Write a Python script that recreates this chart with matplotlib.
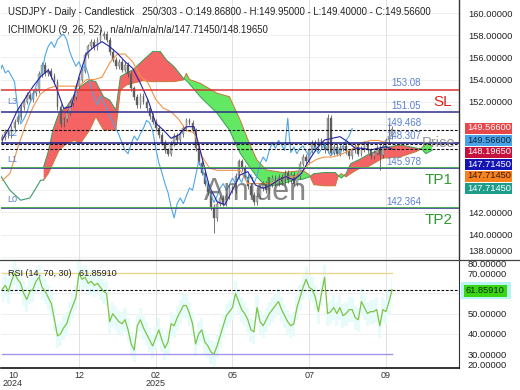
import numpy as np
import matplotlib
matplotlib.use("Agg")
import matplotlib.pyplot as plt
from matplotlib.lines import Line2D
from matplotlib.patches import Rectangle
from matplotlib.ticker import FuncFormatter

plt.rcParams['font.family'] = ['Liberation Sans', 'DejaVu Sans']

W, H = 520, 390

# ---- price data (one candle per 2 trading days, bar index) ----
bars = list(range(0, 256, 2))
closes = [148.8, 149.3, 149.0, 149.6, 150.2, 150.6, 151.5, 152.0, 152.6, 152.2,
          152.8, 153.0, 154.5, 155.3, 154.6, 154.8, 154.3, 153.8, 151.5, 150.0,
          150.4, 151.0, 151.9, 152.4, 153.4, 154.0, 154.8, 156.2, 157.0, 157.4,
          156.9, 157.6, 157.9, 158.1, 157.6, 156.5, 155.8, 155.2, 155.6, 154.9,
          155.3, 154.5, 153.2, 152.4, 151.7, 152.5, 152.0, 151.4, 150.7, 150.2,
          149.6, 149.0, 148.3, 147.6, 147.3, 148.2, 148.9, 148.5, 149.1, 149.6,
          150.3, 150.1, 149.4, 147.8, 146.5, 145.6, 144.6, 143.8, 142.5, 141.5,
          142.8, 143.3, 142.8, 143.5, 144.2, 144.0, 145.3, 146.6, 146.0, 145.2,
          144.4, 143.6, 142.9, 143.5, 144.2, 144.6, 144.0, 144.5, 145.1, 144.6,
          145.2, 144.7, 145.6, 144.9, 145.4, 144.6, 145.3, 146.4, 147.0, 146.6,
          147.6, 148.3, 147.8, 148.5, 148.1, 147.6, 150.5, 147.4, 147.9, 147.3,
          147.8, 148.0, 147.5, 147.1, 147.6, 147.9, 147.3, 147.7, 148.2, 147.6,
          147.1, 147.4, 147.8, 147.2, 148.0, 148.5, 148.9, 149.566]
wick_bars = [64, 138, 212, 246, 252]
wick_prices = [158.6, 140.1, 150.9, 145.8, 150.1]

# ---- ichimoku lines ----
line_x = [0, 5, 10, 15, 20, 25, 30, 35, 40, 45, 50, 55, 60, 65, 70, 75, 80, 85,
          90, 95, 100, 105, 110, 115, 120, 125, 130, 135, 140, 145, 150, 155,
          160, 165, 170, 175, 180, 185, 190, 195, 200, 205, 210, 215, 220, 225,
          230, 235, 240, 245, 250, 254]
tenkan = [148.54, 149.74, 151.25, 152.30, 153.36, 154.26, 154.86, 153.36, 151.40,
          151.55, 154.26, 156.37, 156.97, 157.42, 156.97, 156.37, 155.62, 155.01,
          153.66, 152.15, 150.05, 149.44, 148.69, 148.99, 149.74, 149.74, 147.03,
          144.32, 142.97, 142.67, 144.02, 145.38, 145.68, 144.47, 144.17, 144.47,
          144.93, 145.23, 144.93, 145.53, 146.73, 147.79, 148.54, 148.69, 148.84,
          148.39, 147.79, 147.79, 147.64, 147.79, 147.94, 147.71]
kijun = [144.9, 145.5, 147.8, 149.8, 151.5, 152.7, 153.2, 153.4, 153.4, 153.4,
         153.4, 154.0, 154.0, 154.2, 155.5, 156.3, 156.3, 155.6, 154.3, 153.7,
         152.2, 151.4, 151.1, 150.4, 149.4, 149.2, 147.1, 146.0, 145.8, 145.8,
         145.8, 145.8, 144.6, 144.6, 144.6, 144.6, 144.9, 145.2, 145.2, 145.6,
         146.4, 146.8, 147.0, 147.0, 147.2, 147.5, 147.9, 148.3, 148.5, 148.5,
         148.3, 148.2]
pre_x = [-1, 5, 12, 18, 22, 25, 27]
pre_a = [145.3, 144.0, 143.1, 143.3, 144.2, 144.9, 144.93]
cloud_x = [27, 30, 33, 37, 42, 47, 51, 57, 61, 66, 70, 74, 77, 81, 85, 92, 98,
           103, 107, 112, 118, 120, 122, 129, 140, 148, 155, 161, 166, 172, 183,
           190, 196, 200, 203, 210, 217, 219, 221, 224, 227, 233, 238, 248, 259,
           270, 273, 276, 280]
span_a = [144.93, 145.5, 146.4, 147.6, 148.24, 148.5, 148.24, 149.44, 150.65, 149.44,
          149.44, 149.44, 153.06, 153.5, 153.66, 153.9, 153.8, 153.81, 153.81, 153.81,
          153.96, 154.56, 154.0, 153.66, 152.76, 152.45, 150.35, 148.24, 146.73, 145.83,
          145.6, 145.7, 145.8, 145.4, 144.5, 144.4, 144.4, 145.3, 145.5, 145.2,
          145.5, 146.0, 146.1, 146.9, 147.0, 147.5, 147.75, 148.3, 148.0]
span_b = [146.13, 147.5, 149.44, 151.0, 151.55, 152.6, 153.36, 153.96, 153.8, 152.45,
          152.15, 151.25, 154.26, 154.6, 154.86, 155.77, 156.52, 156.52, 155.77, 155.16,
          154.11, 153.9, 153.6, 152.45, 150.95, 149.44, 147.34, 146.13, 145.2, 144.32,
          144.6, 144.9, 145.0, 145.2, 145.5, 145.6, 145.6, 145.3, 145.1, 145.5,
          146.4, 146.8, 147.2, 147.8, 148.1, 147.8, 147.75, 147.3, 147.6]

# ---- trade levels ----
level_prices = [153.08, 151.05, 149.468, 148.307, 145.978, 142.364]
level_labels = ["153.08", "151.05", "149.468", "148.307", "145.978", "142.364"]
dashed_prices = [149.468, 148.1965, 147.7145]
green_prices = [146.1, 142.5]

# ---- right-side price tags ----
tag_texts = ["149.56600", "149.56600", "148.19650", "147.71450", "147.71450", "147.71450"]
tag_bg = ["#e8474a", "#4aa3e8", "#c8103c", "#1414b4", "#f7821e", "#1d9e8c"]
tag_fg = ["white", "#10243a", "white", "white", "#3a1a00", "white"]

# ---- RSI ----
rsi_x = list(range(0, 256, 2))
rsi = [62, 64, 61, 66, 70, 67, 65, 60, 57, 61, 62, 66, 68, 63, 61, 58, 55, 47, 39, 40,
       43, 45, 50, 54, 58, 70, 67, 68, 65, 66, 64, 65, 63, 61, 60, 46, 50, 48, 46, 45,
       47, 42, 35, 32, 44, 47, 43, 40, 37, 34, 38, 42, 37, 33, 36, 45, 44, 48, 51, 54,
       54, 50, 45, 35, 40, 42, 36, 34, 31, 30, 34, 39, 44, 49, 51, 53, 60, 56, 52, 50,
       47, 42, 41, 53, 46, 44, 47, 50, 52, 54, 56, 52, 49, 46, 44, 45, 53, 58, 63, 67,
       63, 62, 58, 51, 60, 68, 50, 51, 53, 50, 53, 49, 50, 52, 52, 48, 47, 56, 53, 50,
       51, 51, 52, 44, 52, 51, 56, 61.8591]
rsi_last = 61.8591

tick_bars = [7, 50, 100, 150, 200, 250]
tick_labels = ["10\n2024", "12", "02\n2025", "05", "07", "09"]
price_ticks = [140, 142, 152, 154, 156, 158, 160]   # the rest sit under the tags
rsi_ticks = [30, 40, 50, 70]

XMIN, XMAX = -0.8, 297.6


def fx(px):
    return px / W


def fy(py):
    return 1 - py / H


fig = plt.figure(figsize=(W / 100, H / 100), dpi=100)
ax = fig.add_axes([fx(1), fy(260), 458 / W, 260 / H])
ar = fig.add_axes([fx(1), fy(368), 458 / W, 108 / H])

fmt = FuncFormatter(lambda v, p: f"{v:.5f}")

# ---------------- main panel ----------------
ax.set_xlim(XMIN, XMAX)
ax.set_ylim(137.70, 161.18)
for p in range(138, 161, 2):
    ax.axhline(p, color="#ececec", lw=0.6, zorder=0)
for b in tick_bars[1:]:
    ax.axvline(b, color="#e2e2e2", lw=0.7, zorder=0)

# cloud
cx = np.array(cloud_x, float)
sa = np.array(span_a)
sb = np.array(span_b)
ax.fill_between(cx, sa, sb, where=sb >= sa, interpolate=True,
                color="#f46464", lw=0, zorder=1)
ax.fill_between(cx, sa, sb, where=sa >= sb, interpolate=True,
                color="#62e862", lw=0, zorder=1)
ax.plot(cx, sa, color="#c87838", lw=0.7, zorder=2)
ax.plot(cx, sb, color="#3c9c5a", lw=0.7, zorder=2)
ax.plot(pre_x, pre_a, color="#3c9c6a", lw=0.8, zorder=2)

# candles
for i, (b, c) in enumerate(zip(bars, closes)):
    o = closes[i - 1] if i > 0 else c - 0.3
    hi = max(o, c) + 0.25
    lo = min(o, c) - 0.25
    if b in wick_bars:
        w = wick_prices[wick_bars.index(b)]
        hi, lo = max(hi, w), min(lo, w)
    ax.vlines(b, lo, hi, color="#505050", lw=0.55, zorder=3)
    col = "#b4b4b4" if c >= o else "#5a5a5a"
    ax.bar(b, max(abs(c - o), 0.08), bottom=min(o, c), width=1.1,
           color=col, edgecolor="#6a6a6a", lw=0.3, zorder=3)

# ichimoku lines
ax.plot(np.array(bars) - 26, closes, color="#4ea6e6", lw=0.8, zorder=4)
ax.plot(line_x, kijun, color="#f19448", lw=0.8, zorder=4)
ax.plot(line_x, tenkan, color="#2323a8", lw=0.8, zorder=4)

# trade levels
level_cols = ["#d83434", "#2e2e8c", None, "#1c1c86", "#2e2e8c", "#2e2e8c"]
for p, lab, col in zip(level_prices, level_labels, level_cols):
    if col:
        ax.axhline(p, color=col, lw=1.1, zorder=5)
    ax.annotate(lab, xy=(420 / 458, p), xycoords=("axes fraction", "data"),
                xytext=(0, 1.2), textcoords="offset points", ha="right",
                va="bottom", fontsize=7, color="#5a80d2", zorder=6)
for p in dashed_prices:
    ax.axhline(p, color="#111111", lw=0.8, ls=(0, (2.5, 1.5)), zorder=5)
for p in green_prices:
    ax.axhline(p, color="#4caf50", lw=0.7, zorder=5)

for lab, py in [("L3", 101), ("L2", 134), ("L1", 160), ("L0", 200)]:
    fig.text(fx(7), fy(py), lab, fontsize=6.5, color="#5a80d2", va="center")

ax.yaxis.tick_right()
ax.set_yticks(price_ticks)
ax.yaxis.set_major_formatter(fmt)
ax.tick_params(axis="y", length=0, pad=6.5, labelsize=6.7, labelcolor="#222222")
ax.set_xticks([])
for s in ["top", "left", "bottom"]:
    ax.spines[s].set_visible(False)
ax.spines["right"].set_color("#333333")
ax.spines["right"].set_linewidth(1.0)

# ---------------- RSI panel ----------------
ar.set_xlim(XMIN, XMAX)
ar.set_ylim(23.1, 76.55)
for v in [40, 50, 60]:
    ar.axhline(v, color="#ececec", lw=0.6, zorder=0)
for b in tick_bars[1:]:
    ar.axvline(b, color="#e2e2e2", lw=0.7, zorder=0)
rv = np.array(rsi, float)
ar.fill_between(rsi_x, rv - 6, rv + 6, step="mid", color="#e8fbfb", lw=0, zorder=1)
ar.plot([0, 254], [70, 70], color="#e6d890", lw=1.0, zorder=2)
ar.plot([0, 254], [30, 30], color="#a494ea", lw=1.0, zorder=2)
ar.axhline(rsi_last, color="#111111", lw=0.8, ls=(0, (2.5, 1.5)), zorder=3)
ar.plot(rsi_x, rsi, color="#7cc444", lw=0.9, zorder=4)

ar.yaxis.tick_right()
ar.set_yticks(rsi_ticks)
ar.yaxis.set_major_formatter(fmt)
ar.tick_params(axis="y", length=0, pad=6.5, labelsize=6.7, labelcolor="#222222")
ar.set_xticks(tick_bars)
ar.set_xticklabels(tick_labels)
ar.tick_params(axis="x", length=0, pad=2, labelsize=6.5, labelcolor="#333333")
for lab in ar.get_xticklabels():
    lab.set_linespacing(0.95)
for s in ["top", "left"]:
    ar.spines[s].set_visible(False)
ar.spines["right"].set_color("#333333")
ar.spines["bottom"].set_color("#111111")
ar.spines["bottom"].set_linewidth(1.2)

fig.add_artist(Line2D([0, 1], [fy(260), fy(260)], transform=fig.transFigure,
                      color="#444444", lw=0.9))
fig.text(fx(468), fy(251.5), "138.00000", fontsize=6.7, color="#222222", va="center")
fig.text(fx(468), fy(264.5), "80.00000", fontsize=6.7, color="#222222", va="center")
fig.text(fx(468), fy(365), "20.00000", fontsize=6.7, color="#222222", va="center")

# ---------------- texts ----------------
fig.text(fx(8), fy(12), "USDJPY - Daily - Candlestick   250/303 - O:149.86800 - "
         "H:149.95000 - L:149.40000 - C:149.56600", fontsize=6.9, color="#222222",
         va="center")
fig.text(fx(8), fy(30), "ICHIMOKU (9, 26, 52)   n/a/n/a/n/a/n/a/147.71450/148.19650",
         fontsize=6.9, color="#222222", va="center")
fig.text(fx(8), fy(273), "RSI (14, 70, 30)   61.85910", fontsize=6.5,
         color="#222222", va="center")

fig.text(fx(256), fy(192), "Amiden", fontsize=22, color="#555555", alpha=0.7,
         ha="center", va="center")
fig.text(fx(455), fy(143), "Price", fontsize=10.5, color="#8a8a8a", ha="right",
         va="center", alpha=0.9)
fig.text(fx(443), fy(102), "SL", fontsize=11, color="#dd2222", ha="center", va="center")
fig.text(fx(439), fy(180), "TP1", fontsize=11, color="#2e9a2e", ha="center", va="center")
fig.text(fx(439), fy(220), "TP2", fontsize=11, color="#2e9a2e", ha="center", va="center")

for k, (t, bg, fg) in enumerate(zip(tag_texts, tag_bg, tag_fg)):
    py = 128 + 12 * k
    fig.add_artist(Rectangle((fx(465), fy(py + 5.5)), 47 / W, 11 / H,
                             transform=fig.transFigure, color=bg, lw=0))
    fig.text(fx(467), fy(py), t, fontsize=6.7, color=fg, va="center")

fig.add_artist(Rectangle((fx(461), fy(299)), 50 / W, 17 / H,
                         transform=fig.transFigure, color="#b8f4f4", lw=0))
fig.add_artist(Rectangle((fx(464), fy(296.5)), 43 / W, 12 / H,
                         transform=fig.transFigure, color="#3ad614", lw=0))
fig.text(fx(465.5), fy(290.7), f"{rsi_last:.5f}", fontsize=6.7, color="#0c2a00",
         va="center")

fig.savefig("out.png", dpi=100)
